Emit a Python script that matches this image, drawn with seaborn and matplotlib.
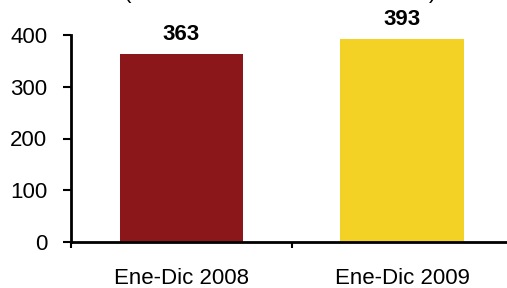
import matplotlib
matplotlib.use("Agg")
import matplotlib.pyplot as plt
import pandas as pd
import seaborn as sns
from matplotlib.ticker import FixedLocator

periods = ["Ene-Dic 2008", "Ene-Dic 2009"]
values = [363, 393]
bar_colors = ["#8B171B", "#F4D125"]

sns.set_style("white")
plt.rcParams["font.family"] = ["Liberation Sans", "DejaVu Sans"]
plt.rcParams["text.color"] = "black"
plt.rcParams["xtick.color"] = "black"
plt.rcParams["ytick.color"] = "black"

df = pd.DataFrame({"Periodo": periods, "Valor": values})

fig = plt.figure(figsize=(5.07, 2.88), dpi=100)
ax = fig.add_axes([71 / 507, 1 - 242 / 288, 1 - 71 / 507, (242 - 35) / 288])

sns.barplot(data=df, x="Periodo", y="Valor", hue="Periodo", palette=bar_colors,
            width=0.56, saturation=1, legend=False, linewidth=0, ax=ax)

ax.set_xlim(-0.5, 1.475)
ax.set_ylim(0, 400)
ax.set_yticks([0, 100, 200, 300, 400])
ax.set_xlabel("")
ax.set_ylabel("")

for i, v in enumerate(values):
    ax.annotate(str(v), (i, v), xytext=(0, 14), textcoords="offset points",
                ha="center", va="center", fontsize=16, fontweight="bold",
                color="black", annotation_clip=False)

for side in ["top", "right"]:
    ax.spines[side].set_visible(False)
for side in ["left", "bottom"]:
    ax.spines[side].set_linewidth(2)
    ax.spines[side].set_color("black")

ax.tick_params(axis="y", direction="out", length=6, width=1.5, pad=11,
               labelsize=16, left=True, labelcolor="black")
ax.tick_params(axis="x", which="major", length=0, pad=19, labelsize=16,
               labelcolor="black")
ax.xaxis.set_minor_locator(FixedLocator([-0.5, 0.5]))
ax.tick_params(axis="x", which="minor", direction="out", length=4, width=1.5,
               bottom=True)

fig.text(127 / 507, 1 + 2 / 288, "(", fontsize=16, ha="center", va="baseline")
fig.text(433 / 507, 1 + 2 / 288, ")", fontsize=16, ha="center", va="baseline")

fig.savefig("out.png", dpi=100)
